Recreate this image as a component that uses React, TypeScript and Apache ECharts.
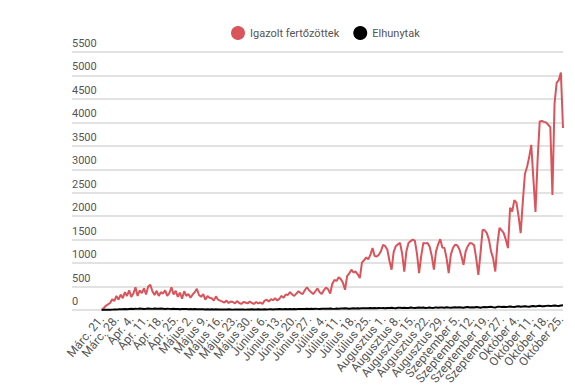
import React, { useEffect, useRef } from "react";
import * as echarts from "echarts";

const seriesNames = ["Igazolt fertőzöttek", "Elhunytak"];

const tickLabels = [
  "Márc. 21.", "Márc. 28.", "Ápr. 4.", "Ápr. 11.", "Ápr. 18.", "Ápr. 25.",
  "Május 2.", "Május 9.", "Május 16.", "Május 23.", "Május 30.",
  "Június 6.", "Június 13.", "Június 20.", "Június 27.",
  "Július 4.", "Július 11.", "Július 18.", "Július 25.",
  "Augusztus 1.", "Augusztus 8.", "Augusztus 15.", "Augusztus 22.", "Augusztus 29.",
  "Szeptember 5.", "Szeptember 12.", "Szeptember 19.", "Szeptember 27.",
  "Október 4.", "Október 11.", "Október 18.", "Október 25.",
];

const confirmed = [
  10, 40, 90, 120, 150, 230, 190, 300, 220, 330, 250,
  380, 300, 420, 280, 350, 485,
  300, 420, 360, 460, 330, 500, 535,
  400, 320, 410, 300, 380, 350, 420, 300, 360, 485,
  330, 410, 280, 370, 240, 400, 300, 340, 260, 330, 380, 450,
  320, 280, 340, 220, 300, 260, 250, 200, 290, 220, 200, 180,
  160, 200, 150, 180, 170, 140, 190, 150, 130, 170, 160, 140, 180, 150, 130, 170, 140, 160, 130, 200,
  220, 180, 230, 210, 250, 200, 240, 300, 260, 330, 320, 380,
  330, 300, 350, 400, 360, 340, 420, 485,
  420, 380, 340, 400, 460, 380, 340, 420, 480, 440, 350,
  560, 640, 620, 700, 660, 580, 430,
  720, 780, 860, 800, 820, 760, 680,
  1010, 1060, 1120, 1080, 1180, 1320, 1150, 1140, 1180, 1260, 1390, 1360, 1285, 1050, 860,
  1240, 1360, 1400, 1430, 1200, 820, 1250, 1430, 1470, 1500, 1480, 1200, 785,
  1150, 1430, 1420, 1430, 1350, 1150, 860, 1250, 1400, 1510, 1330, 1320, 1100, 785,
  1180, 1320, 1390, 1380, 1300, 1150, 960, 1250, 1360, 1430, 1420, 1380, 1100, 750,
  1200, 1710, 1700, 1640, 1500, 1250, 1100, 820, 1400, 1750, 1700, 1640, 1500, 1320,
  2180, 2100, 2340, 2290, 2000, 1640,
  2300, 2900, 3050, 3250, 3520, 2800, 2090, 3200, 4020, 4030, 4010, 4000, 3950, 3900, 2450,
  4400, 4840, 4900, 5060, 3880,
];

const deaths = [
  2, 3, 5, 4, 6, 8, 10,
  12, 14, 17, 15, 20, 18, 22,
  25, 21, 28, 24, 30, 27, 22,
  26, 31, 29, 24, 33, 28, 25,
  30, 27, 22, 26, 24, 21, 25,
  20, 23, 18, 22, 19, 24, 17,
  20, 16, 19, 15, 18, 14, 17,
  13, 16, 12, 15, 11, 14, 10,
  13, 9, 12, 10, 14, 11, 8,
  12, 10, 9, 13, 11, 8, 12,
  10, 14, 12, 9, 15, 11, 13,
  16, 12, 14, 18, 13, 17, 15,
  19, 14, 18, 21, 16, 20, 17,
  22, 18, 24, 20, 23, 19, 25,
  21, 26, 23, 28, 24, 22, 27,
  25, 29, 26, 31, 27, 24, 30,
  28, 33, 30, 35, 31, 27, 34,
  36, 32, 38, 34, 40, 35, 37,
  39, 42, 36, 41, 38, 44, 40,
  43, 38, 45, 41, 47, 42, 39,
  46, 50, 44, 48, 41, 45, 52,
  47, 43, 49, 54, 46, 51, 44,
  48, 53, 45, 50, 56, 47, 52,
  55, 49, 57, 51, 46, 53, 58,
  52, 60, 54, 48, 57, 62, 55,
  59, 53, 63, 57, 50, 61, 66,
  58, 64, 69, 60, 55, 67, 72,
  65, 71, 62, 68, 75, 70, 66,
  73, 78, 69, 76, 82, 74, 71,
  80, 85, 77, 83, 90, 81, 78,
  88, 93, 85, 91, 98, 89, 86,
  95, 100,
];

const yTicks = { min: 0, max: 5500, interval: 500 };

export default function App() {
  const ref = useRef<HTMLDivElement>(null);

  useEffect(() => {
    if (!ref.current) return;
    const chart = echarts.init(ref.current, null, { renderer: "svg" });
    const lastIdx = confirmed.length - 1;
    chart.setOption({
      animation: false,
      backgroundColor: "#ffffff",
      textStyle: { fontFamily: "Roboto" },
      legend: {
        left: 226,
        top: 21,
        icon: "circle",
        itemWidth: 14,
        itemHeight: 14,
        itemGap: 14,
        textStyle: { color: "#555", fontSize: 11, fontFamily: "Roboto" },
        data: seriesNames,
      },
      grid: {
        left: 72,
        right: 12,
        top: 52,
        bottom: 77,
        containLabel: false,
        outerBoundsMode: "none",
      },
      xAxis: {
        type: "value",
        min: -14,
        max: lastIdx,
        interval: 7,
        axisLine: { show: false },
        axisTick: { show: false },
        splitLine: { show: false },
        axisLabel: {
          rotate: 50,
          margin: 7,
          color: "#555",
          fontSize: 12,
          fontFamily: "Roboto",
          formatter: (v: number) =>
            v >= 0 && v % 7 === 0 && tickLabels[v / 7] ? tickLabels[v / 7] : "",
        },
      },
      yAxis: {
        type: "value",
        min: yTicks.min,
        max: yTicks.max,
        interval: yTicks.interval,
        axisLine: { show: false },
        axisTick: { show: false },
        splitLine: {
          show: true,
          lineStyle: { color: "#e2e2e2", width: 2 },
        },
        axisLabel: {
          inside: true,
          align: "left",
          verticalAlign: "bottom",
          margin: 0,
          padding: [0, 0, 3, 0],
          color: "#555",
          fontSize: 11,
          fontFamily: "Roboto",
          formatter: (v: number) => String(v),
        },
      },
      series: [
        {
          name: seriesNames[0],
          type: "line",
          data: confirmed.map((v, i) => [i, v]),
          showSymbol: false,
          symbol: "circle",
          lineStyle: { color: "#d9545b", width: 2 },
          itemStyle: { color: "#d9545b" },
          z: 2,
        },
        {
          name: seriesNames[1],
          type: "line",
          data: deaths.map((v, i) => [i, v]),
          showSymbol: false,
          symbol: "circle",
          lineStyle: { color: "#000000", width: 2 },
          itemStyle: { color: "#000000" },
          z: 3,
        },
      ],
    });
    return () => chart.dispose();
  }, []);

  return (
    <div
      ref={ref}
      style={{ position: "fixed", left: 0, top: 0, width: 575, height: 387 }}
    />
  );
}
